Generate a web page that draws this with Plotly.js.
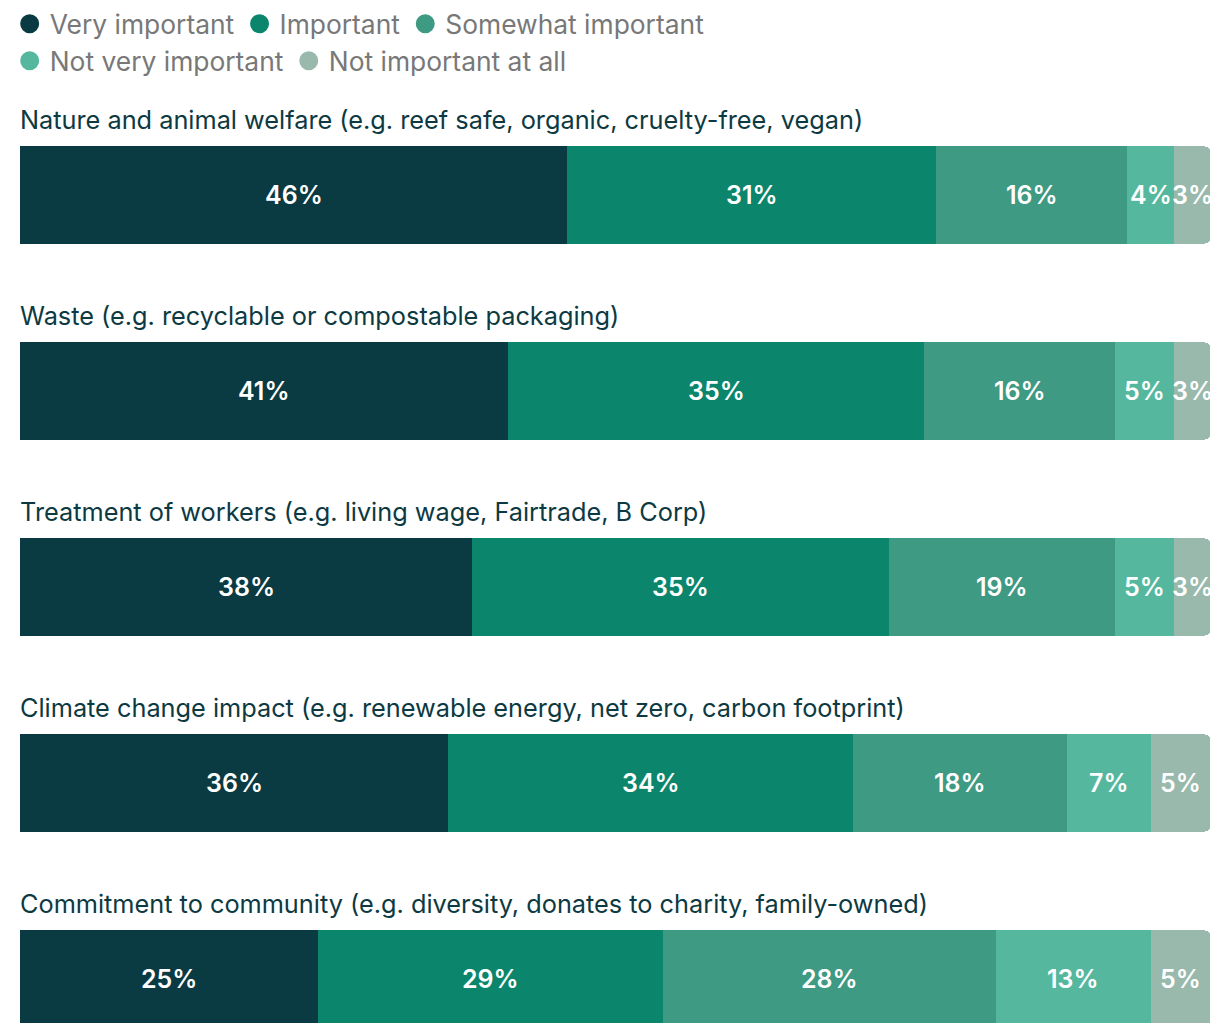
<!DOCTYPE html>
<html>
<head>
<meta charset="utf-8">
<script src="https://cdn.plot.ly/plotly-3.0.1.min.js"></script>
<style>html,body{margin:0;padding:0;background:#fff;}#chart{width:1210px;height:1023px;}</style>
</head>
<body>
<div id="chart"></div>
<script>
const categories = [
  "Nature and animal welfare (e.g. reef safe, organic, cruelty-free, vegan)",
  "Waste (e.g. recyclable or compostable packaging)",
  "Treatment of workers (e.g. living wage, Fairtrade, B Corp)",
  "Climate change impact (e.g. renewable energy, net zero, carbon footprint)",
  "Commitment to community (e.g. diversity, donates to charity, family-owned)"
];
const seriesNames = ["Very important", "Important", "Somewhat important", "Not very important", "Not important at all"];
const veryImportant = [46, 41, 38, 36, 25];
const important = [31, 35, 35, 34, 29];
const somewhatImportant = [16, 16, 19, 18, 28];
const notVeryImportant = [4, 5, 5, 7, 13];
const notImportantAtAll = [3, 3, 3, 5, 5];

const seriesValues = [veryImportant, important, somewhatImportant, notVeryImportant, notImportantAtAll];
const colors = ["#0a3a42", "#0b866c", "#3e9a83", "#55b89e", "#98b9ab"];
const FONT = "Inter, 'Noto Sans', sans-serif";

const yIdx = categories.map((c, i) => i);
const traces = [];
const cum = categories.map(() => 0);

seriesValues.forEach((vals, s) => {
  traces.push({
    type: "bar", orientation: "h",
    x: vals, y: yIdx, width: 0.495,
    marker: {color: colors[s], line: {width: 0}},
    name: seriesNames[s], showlegend: false, hoverinfo: "skip"
  });
});

const annotations = categories.map((c, i) => ({
  text: c, x: 0, y: i, xref: "x", yref: "y",
  xanchor: "left", yanchor: "middle", yshift: 76, xshift: -2,
  showarrow: false,
  font: {family: FONT, size: 25.3, color: "#0d3a42"}
}));

seriesValues.forEach((vals, s) => {
  vals.forEach((v, i) => {
    const m = cum[i] + v / 2; cum[i] += v;
    annotations.push({
      text: v + "%", x: m, y: i, xref: "x", yref: "y",
      xanchor: "center", yanchor: "middle", yshift: 0,
      showarrow: false,
      font: {family: FONT, size: 25, color: "#ffffff", weight: 600}
    });
  });
});

seriesNames.forEach((n, s) => {
  traces.push({
    type: "scatter", mode: "markers",
    x: [null], y: [null], name: n,
    marker: {color: colors[s], size: 16, symbol: "circle", line: {color: colors[s], width: 3}},
    legend: s < 3 ? "legend" : "legend2",
    hoverinfo: "skip"
  });
});

const legendBase = {
  orientation: "h", xref: "container", yref: "container",
  x: 0.008, xanchor: "left", yanchor: "top", traceorder: "normal",
  font: {family: FONT, size: 26.4, color: "#787878"},
  bgcolor: "rgba(0,0,0,0)", itemclick: false, itemdoubleclick: false
};

const layout = {
  width: 1210, height: 1023,
  margin: {l: 20, r: 0, t: 90, b: 0},
  paper_bgcolor: "#ffffff", plot_bgcolor: "#ffffff",
  barmode: "stack", barcornerradius: 5,
  showlegend: true,
  legend: Object.assign({}, legendBase, {y: 1}),
  legend2: Object.assign({}, legendBase, {y: 1 - 37 / 1023}),
  xaxis: {range: [0, 100], visible: false, fixedrange: true},
  yaxis: {range: [(1023 - 195) / 196, -(195 - 90) / 196], visible: false, fixedrange: true},
  annotations: annotations,
  font: {family: FONT}
};

Plotly.newPlot("chart", traces, layout, {displayModeBar: false, staticPlot: true});
</script>
</body>
</html>
